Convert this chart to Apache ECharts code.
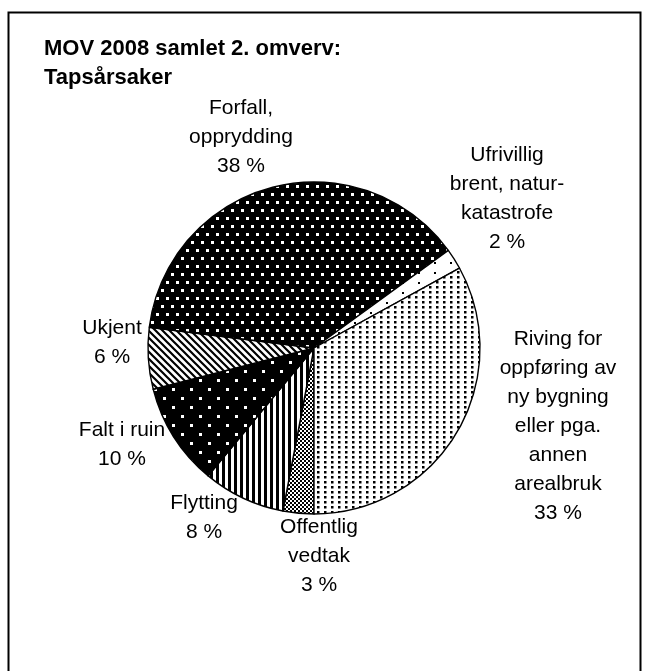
<!DOCTYPE html>
<html>
<head>
<meta charset="utf-8">
<script src="https://cdn.jsdelivr.net/npm/echarts@6/dist/echarts.min.js"></script>
<style>
html,body{margin:0;padding:0;background:#fff;}
#chart{width:650px;height:671px;}
</style>
</head>
<body>
<div id="chart"></div>
<script>
// ---- data ----
const categories = [
  "Offentlig\nvedtak",
  "Flytting",
  "Falt i ruin",
  "Ukjent",
  "Forfall,\nopprydding",
  "Ufrivillig\nbrent, natur-\nkatastrofe",
  "Riving for\noppføring av\nny bygning\neller pga.\nannen\narealbruk"
];
const values = [3, 8, 10, 6, 38, 2, 33];
const titleLines = ["MOV 2008 samlet 2. omverv:", "Tapsårsaker"];

// ---- layout (label anchor centres, px) ----
const LABEL_POS = [
  [319, 556],
  [204, 518],
  [122, 445],
  [112, 343],
  [241, 137],
  [507, 199],
  [558, 426]
];

function makePattern(w, h, bg, fg, draw) {
  const c = document.createElement('canvas');
  c.width = w; c.height = h;
  const g = c.getContext('2d');
  g.fillStyle = bg; g.fillRect(0, 0, w, h);
  g.fillStyle = fg; g.strokeStyle = fg;
  draw(g, w, h);
  return { image: c, repeat: 'repeat' };
}
const patterns = [
  // Offentlig: fine checkerboard
  makePattern(4, 4, '#fff', '#000', g => { g.fillRect(0,0,2,2); g.fillRect(2,2,2,2); }),
  // Flytting: vertical stripes
  makePattern(6, 6, '#fff', '#000', g => { g.fillRect(0,0,3,6); }),
  // Falt i ruin: black with sparse white dots
  makePattern(18, 18, '#000', '#fff', g => { g.fillRect(1,1,3,3); g.fillRect(10,10,3,3); }),
  // Ukjent: diagonal stripes
  makePattern(7, 7, '#fff', '#000', g => {
    g.lineWidth = 2.2;
    g.beginPath();
    g.moveTo(-2,-2); g.lineTo(9,9);
    g.moveTo(-9,-2); g.lineTo(2,9);
    g.moveTo(5,-2); g.lineTo(16,9);
    g.stroke();
  }),
  // Forfall: black with white dots
  makePattern(10, 16, '#000', '#fff', g => { g.fillRect(1,1,3,3); g.fillRect(6,9,3,3); }),
  // Ufrivillig: white with very sparse dots
  makePattern(16, 10, '#fff', '#000', g => { g.fillRect(2,2,2,2); }),
  // Riving: white with small black dots
  makePattern(7, 5, '#fff', '#000', g => { g.fillRect(2,1,2.5,2.5); })
];

const chart = echarts.init(document.getElementById('chart'), null, { renderer: 'canvas' });
chart.setOption({
  animation: false,
  backgroundColor: '#fff',
  title: {
    text: titleLines.join('\n'),
    left: 44, top: 34, padding: 0,
    textStyle: { fontFamily: 'Liberation Sans', fontSize: 22, fontWeight: 'bold', color: '#000', lineHeight: 29 }
  },
  graphic: [{
    type: 'rect', silent: true,
    shape: { x: 8.5, y: 12.5, width: 632, height: 720 },
    style: { fill: 'none', stroke: '#000', lineWidth: 2 }
  }],
  series: [{
    type: 'pie',
    center: [314, 348],
    radius: 166,
    startAngle: -90,
    clockwise: true,
    avoidLabelOverlap: false,
    silent: true,
    emphasis: { disabled: true },
    itemStyle: { borderColor: '#000', borderWidth: 1.4 },
    label: {
      show: true,
      position: 'outside',
      formatter: p => p.name + '\n' + p.value + ' %',
      fontFamily: 'Liberation Sans',
      fontSize: 21,
      lineHeight: 29,
      color: '#000',
      align: 'center',
      overflow: 'none'
    },
    labelLine: { show: false },
    labelLayout: params => {
      const p = LABEL_POS[params.dataIndex];
      return { x: p[0], y: p[1], align: 'center', verticalAlign: 'middle' };
    },
    data: categories.map((n, i) => ({ name: n, value: values[i], itemStyle: { color: patterns[i] } }))
  }]
});
</script>
</body>
</html>
